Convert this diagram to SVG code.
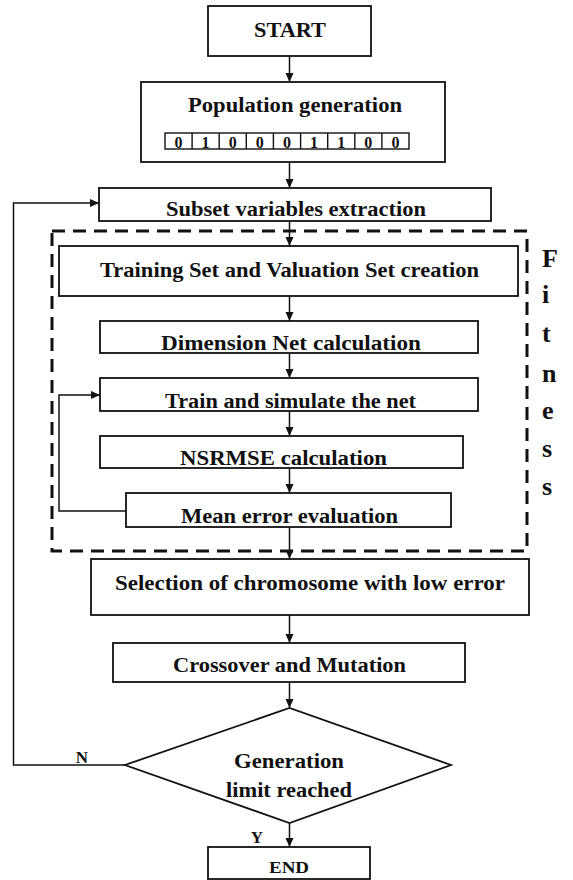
<svg xmlns="http://www.w3.org/2000/svg" width="573" height="880" viewBox="0 0 573 880">
<style>
.box{fill:#fff;stroke:#111;stroke-width:1.8}
.t{font-family:"Liberation Serif","DejaVu Serif",serif;font-weight:bold;fill:#111;text-anchor:middle}
.c{fill:none;stroke:#111;stroke-width:1.5}
.dash{fill:none;stroke:#111;stroke-width:3;stroke-dasharray:13 8}
.fit{font-family:"Liberation Serif","DejaVu Serif",serif;font-weight:bold;font-size:26px;fill:#111}
</style>
<defs>
<marker id="ah" markerWidth="10" markerHeight="10" refX="9" refY="5" orient="auto" markerUnits="userSpaceOnUse">
<path d="M0,1 L9,5 L0,9 Z" fill="#111"/>
</marker>
</defs>
<rect width="573" height="880" fill="#fff"/>

<g id="fitness-region">
<rect class="dash" x="52" y="231" width="475" height="320"/>
<text class="fit" x="542" y="267">F</text>
<text class="fit" x="542" y="303">i</text>
<text class="fit" x="542" y="342">t</text>
<text class="fit" x="542" y="382">n</text>
<text class="fit" x="542" y="419">e</text>
<text class="fit" x="542" y="457">s</text>
<text class="fit" x="542" y="495">s</text>
</g>

<g id="connectors">
<line class="c" x1="289.5" y1="56" x2="289.5" y2="82" marker-end="url(#ah)"/>
<line class="c" x1="289.5" y1="162" x2="289.5" y2="188" marker-end="url(#ah)"/>
<line class="c" x1="289.5" y1="221" x2="289.5" y2="246" marker-end="url(#ah)"/>
<line class="c" x1="289.5" y1="296" x2="289.5" y2="321" marker-end="url(#ah)"/>
<line class="c" x1="289.5" y1="353" x2="289.5" y2="378" marker-end="url(#ah)"/>
<line class="c" x1="289.5" y1="411" x2="289.5" y2="436" marker-end="url(#ah)"/>
<line class="c" x1="289.5" y1="468" x2="289.5" y2="493" marker-end="url(#ah)"/>
<line class="c" x1="289.5" y1="527" x2="289.5" y2="559" marker-end="url(#ah)"/>
<line class="c" x1="289.5" y1="615" x2="289.5" y2="643" marker-end="url(#ah)"/>
<line class="c" x1="289.5" y1="682" x2="289.5" y2="708" marker-end="url(#ah)"/>
<line class="c" x1="289.5" y1="823" x2="289.5" y2="847" marker-end="url(#ah)"/>
<polyline class="c" points="126,511 59,511 59,395 100,395" marker-end="url(#ah)"/>
<polyline class="c" points="125,765 13.5,765 13.5,203 99,203" marker-end="url(#ah)"/>
<text class="t" x="82" y="763" font-size="17">N</text>
<text class="t" x="257" y="843" font-size="17">Y</text>
</g>

<g id="start">
<rect class="box" x="208" y="6" width="163" height="50"/>
<text class="t" x="290" y="37" font-size="21" textLength="72" lengthAdjust="spacingAndGlyphs">START</text>
</g>

<g id="population">
<rect class="box" x="141" y="82" width="304" height="80"/>
<text class="t" x="295" y="112" font-size="20" textLength="214" lengthAdjust="spacingAndGlyphs">Population generation</text>
<g fill="none" stroke="#111" stroke-width="1.4">
<rect x="165" y="133" width="244" height="16"/>
<line x1="192.1" y1="133" x2="192.1" y2="149"/>
<line x1="219.2" y1="133" x2="219.2" y2="149"/>
<line x1="246.3" y1="133" x2="246.3" y2="149"/>
<line x1="273.4" y1="133" x2="273.4" y2="149"/>
<line x1="300.6" y1="133" x2="300.6" y2="149"/>
<line x1="327.7" y1="133" x2="327.7" y2="149"/>
<line x1="354.8" y1="133" x2="354.8" y2="149"/>
<line x1="381.9" y1="133" x2="381.9" y2="149"/>
</g>
<g class="t" font-size="16">
<text x="178.5" y="147.5">0</text>
<text x="205.6" y="147.5">1</text>
<text x="232.7" y="147.5">0</text>
<text x="259.8" y="147.5">0</text>
<text x="287" y="147.5">0</text>
<text x="314.1" y="147.5">1</text>
<text x="341.2" y="147.5">1</text>
<text x="368.3" y="147.5">0</text>
<text x="395.4" y="147.5">0</text>
</g>
</g>

<g id="subset">
<rect class="box" x="99" y="188" width="392" height="33"/>
<text class="t" x="296" y="216" font-size="20" textLength="260" lengthAdjust="spacingAndGlyphs">Subset variables extraction</text>
</g>

<g id="training">
<rect class="box" x="59" y="246" width="459" height="50"/>
<text class="t" x="289.5" y="277" font-size="21" textLength="379" lengthAdjust="spacingAndGlyphs">Training Set and Valuation Set creation</text>
</g>

<g id="dimension">
<rect class="box" x="100" y="321" width="378" height="32"/>
<text class="t" x="291" y="350" font-size="20" textLength="260" lengthAdjust="spacingAndGlyphs">Dimension Net calculation</text>
</g>

<g id="train">
<rect class="box" x="100" y="378" width="378" height="33"/>
<text class="t" x="290.5" y="408" font-size="20" textLength="251" lengthAdjust="spacingAndGlyphs">Train and simulate the net</text>
</g>

<g id="nsrmse">
<rect class="box" x="100" y="436" width="363" height="32"/>
<text class="t" x="283.5" y="465" font-size="20" textLength="207" lengthAdjust="spacingAndGlyphs">NSRMSE calculation</text>
</g>

<g id="mean">
<rect class="box" x="126" y="493" width="325" height="34"/>
<text class="t" x="289.5" y="523" font-size="20" textLength="217" lengthAdjust="spacingAndGlyphs">Mean error evaluation</text>
</g>

<g id="selection">
<rect class="box" x="91" y="559" width="438" height="56"/>
<text class="t" x="310" y="590" font-size="21" textLength="390" lengthAdjust="spacingAndGlyphs">Selection of chromosome with low error</text>
</g>

<g id="crossover">
<rect class="box" x="113" y="643" width="352" height="39"/>
<text class="t" x="289.5" y="672" font-size="21" textLength="233" lengthAdjust="spacingAndGlyphs">Crossover and Mutation</text>
</g>

<g id="decision">
<polygon class="box" points="125,765 289.5,708 451,765 289.5,823"/>
<text class="t" x="289" y="768" font-size="21" textLength="110" lengthAdjust="spacingAndGlyphs">Generation</text>
<text class="t" x="289" y="797" font-size="21" textLength="126" lengthAdjust="spacingAndGlyphs">limit reached</text>
</g>

<g id="end">
<rect class="box" x="208" y="847" width="162" height="32"/>
<text class="t" x="289" y="873" font-size="16" textLength="40" lengthAdjust="spacingAndGlyphs">END</text>
</g>
</svg>
